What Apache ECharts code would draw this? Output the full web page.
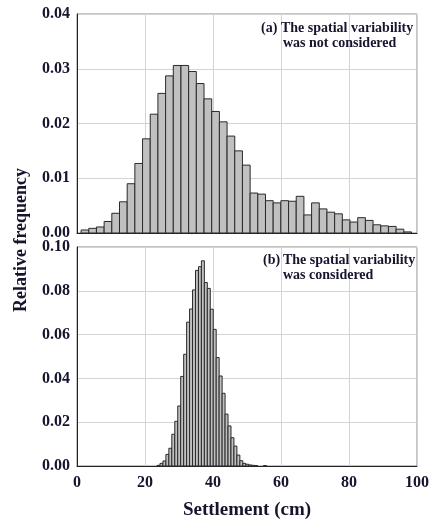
<!DOCTYPE html>
<html>
<head>
<meta charset="utf-8">
<script src="https://cdn.jsdelivr.net/npm/echarts@6/dist/echarts.min.js"></script>
<style>html,body{margin:0;padding:0;background:#fff}#c{width:432px;height:520px}</style>
</head>
<body>
<div id="c"></div>
<script>
// ---- data ----
var xTicks = [0, 20, 40, 60, 80, 100];
var topBinStart = 1.2;
var topBinWidth = 2.26;
var topFreq = [0.00055, 0.00085, 0.0011, 0.0021, 0.0036, 0.0057, 0.0090, 0.0127, 0.0172, 0.0217,
  0.0255, 0.0287, 0.0306, 0.0306, 0.0295, 0.0273, 0.0245, 0.0222, 0.0203, 0.0177,
  0.0150, 0.0124, 0.0073, 0.0071, 0.0059, 0.0055, 0.0059, 0.0058, 0.0067, 0.0033,
  0.0055, 0.0044, 0.0038, 0.0035, 0.0024, 0.0020, 0.0028, 0.0023, 0.0015, 0.0013,
  0.0012, 0.0007, 0.0002];
var bottomBinStart = 23.54;
var bottomBinWidth = 0.87;
var bottomFreq = [0.0003, 0.0012, 0.0023, 0.0053, 0.0081, 0.0145, 0.0204, 0.0274, 0.0409, 0.0510,
  0.0657, 0.0717, 0.0804, 0.0893, 0.0910, 0.0937, 0.0838, 0.0811, 0.0716, 0.0624,
  0.0495, 0.0411, 0.0332, 0.0237, 0.0183, 0.0129, 0.0091, 0.0050, 0.0024, 0.0012,
  0.0008, 0.0005, 0.0003, 0.0002, 0, 0, 0.0002];
var topYTicks = [0, 0.01, 0.02, 0.03, 0.04];
var bottomYTicks = [0, 0.02, 0.04, 0.06, 0.08, 0.10];

function toBins(start, width, freq) {
  return freq.map(function (v, i) { return [start + i * width, start + (i + 1) * width, v]; });
}

var FONT = 'Liberation Serif';
var TXT = '#15152e';

function renderBar(params, api) {
  var p0 = api.coord([api.value(0), api.value(2)]);
  var p1 = api.coord([api.value(1), 0]);
  if (api.value(2) <= 0) return null;
  return {
    type: 'rect',
    shape: { x: p0[0], y: p0[1], width: p1[0] - p0[0], height: p1[1] - p0[1] },
    style: { fill: '#c0c0c0', stroke: '#2a2a2a', lineWidth: 1 }
  };
}

function xAxisCfg(gi, showLabels) {
  return {
    gridIndex: gi, type: 'value', min: xTicks[0], max: xTicks[xTicks.length - 1], interval: 20,
    axisLine: { show: true, onZero: false, lineStyle: { color: '#222', width: 1 } },
    axisTick: { show: false },
    splitLine: { show: true, lineStyle: { color: '#d4d4d4', width: 1 } },
    axisLabel: { show: showLabels, fontFamily: FONT, fontWeight: 'bold', fontSize: 16, color: TXT, margin: 9 }
  };
}
function yAxisCfg(gi, max, interval) {
  return {
    gridIndex: gi, type: 'value', min: 0, max: max, interval: interval,
    axisLine: { show: true, lineStyle: { color: '#222', width: 1 } },
    axisTick: { show: false },
    splitLine: { show: true, lineStyle: { color: '#d4d4d4', width: 1 } },
    axisLabel: { fontFamily: FONT, fontWeight: 'bold', fontSize: 16, color: TXT, margin: 7,
      formatter: function (v) { return v.toFixed(2); } }
  };
}

var chart = echarts.init(document.getElementById('c'), null, { renderer: 'canvas' });
chart.setOption({
  animation: false,
  backgroundColor: '#fff',
  grid: [
    { left: 77, right: 15, top: 14, height: 219, show: true, borderColor: '#888', borderWidth: 1, backgroundColor: 'transparent' },
    { left: 77, right: 15, top: 247, height: 219, show: true, borderColor: '#888', borderWidth: 1, backgroundColor: 'transparent' }
  ],
  xAxis: [xAxisCfg(0, false), xAxisCfg(1, true)],
  yAxis: [yAxisCfg(0, topYTicks[topYTicks.length - 1], 0.01), yAxisCfg(1, bottomYTicks[bottomYTicks.length - 1], 0.02)],
  series: [
    { type: 'custom', xAxisIndex: 0, yAxisIndex: 0, renderItem: renderBar,
      encode: { x: [0, 1], y: 2 }, data: toBins(topBinStart, topBinWidth, topFreq), z: 3 },
    { type: 'custom', xAxisIndex: 1, yAxisIndex: 1, renderItem: renderBar,
      encode: { x: [0, 1], y: 2 }, data: toBins(bottomBinStart, bottomBinWidth, bottomFreq), z: 3 }
  ],
  graphic: [
    { type: 'text', x: 261, y: 28, z: 10, style: { text: '(a)', font: 'bold 14px "Liberation Serif"', fill: TXT, textAlign: 'left', textVerticalAlign: 'middle' } },
    { type: 'text', x: 281, y: 28, z: 10, style: { text: 'The spatial variability', font: 'bold 14px "Liberation Serif"', fill: TXT, textAlign: 'left', textVerticalAlign: 'middle' } },
    { type: 'text', x: 283, y: 43, z: 10, style: { text: 'was not considered', font: 'bold 14px "Liberation Serif"', fill: TXT, textAlign: 'left', textVerticalAlign: 'middle' } },
    { type: 'text', x: 263, y: 260, z: 10, style: { text: '(b)', font: 'bold 14px "Liberation Serif"', fill: TXT, textAlign: 'left', textVerticalAlign: 'middle' } },
    { type: 'text', x: 283, y: 260, z: 10, style: { text: 'The spatial variability', font: 'bold 14px "Liberation Serif"', fill: TXT, textAlign: 'left', textVerticalAlign: 'middle' } },
    { type: 'text', x: 283, y: 275, z: 10, style: { text: 'was considered', font: 'bold 14px "Liberation Serif"', fill: TXT, textAlign: 'left', textVerticalAlign: 'middle' } },
    { type: 'text', x: 21, y: 240, rotation: Math.PI / 2, z: 10, style: { text: 'Relative frequency', font: 'bold 18px "Liberation Serif"', fill: TXT, textAlign: 'center', textVerticalAlign: 'middle' } },
    { type: 'text', x: 247, y: 510, z: 10, style: { text: 'Settlement (cm)', font: 'bold 19px "Liberation Serif"', fill: TXT, textAlign: 'center', textVerticalAlign: 'middle' } }
  ]
});
</script>
</body>
</html>
